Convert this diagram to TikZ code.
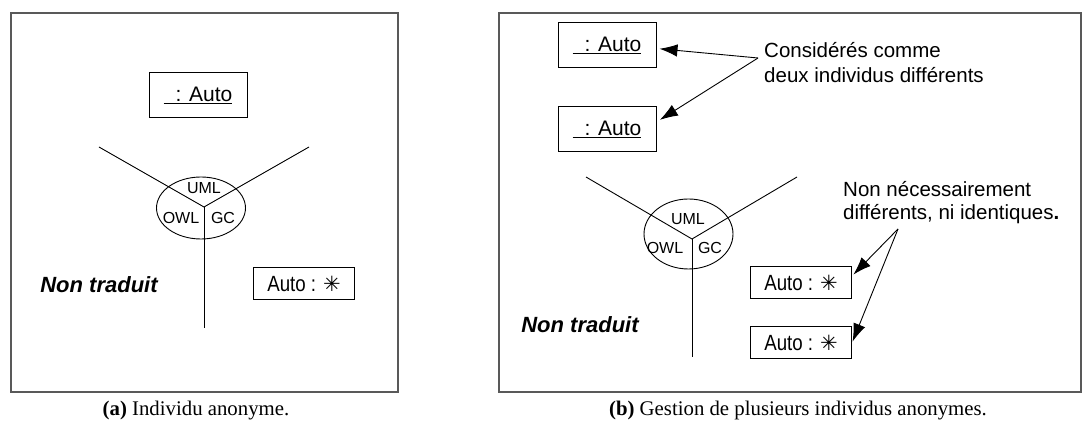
\documentclass[tikz,border=0pt]{standalone}
\usepackage{fontspec}
\setmainfont{Liberation Sans}
\newfontfamily\capfont{Liberation Serif}
\newfontfamily\narrowfont[FakeStretch=0.85]{Liberation Sans}
\newfontfamily\symfont{DejaVu Sans}
\usetikzlibrary{arrows.meta,shapes.geometric}

\begin{document}
\begin{tikzpicture}[x=1pt,y=-1pt,
  every node/.style={inner sep=0pt},
  frame/.style={draw=black!65,line width=1.5pt},
  obj/.style={draw,line width=1pt,minimum width=98pt,minimum height=45pt,font=\fontsize{21}{25}\selectfont},
  inst/.style={draw,line width=1pt,minimum width=101pt,minimum height=32pt,font=\narrowfont\fontsize{22}{26}\selectfont},
  ring/.style={draw,ellipse,line width=0.9pt,minimum width=89pt},
  lab/.style={font=\fontsize{16}{18}\selectfont},
  nt/.style={font=\bfseries\itshape\fontsize{22}{26}\selectfont},
  note/.style={anchor=north west,align=left,font=\fontsize{20.5}{25}\selectfont},
  capt/.style={font=\capfont\fontsize{20.8}{24}\selectfont},
  ln/.style={line width=0.9pt},
  ar/.style={-{Latex[length=18pt,width=12.5pt]},line width=0.9pt}]
\useasboundingbox (0,0) rectangle (1082,435);
\draw[frame] (11,13) rectangle (398,392);
\draw[frame] (499,13) rectangle (1081,392);

\node[obj] (a1) at (198,95.5) {\underline{\hspace{12pt}: Auto}};
\coordinate (y1) at (204,207);
\coordinate (y1l) at (99,147);
\coordinate (y1r) at (309,147);
\coordinate (y1b) at (204,328);
\node[ring,minimum height=62pt] (e1) at (201,208) {};
\draw[ln] (y1l) -- (y1) -- (y1r);
\draw[ln] (y1) -- (y1b);
\node[lab] (u1) at (204,188) {UML};
\node[lab] (o1) at (181,218) {OWL};
\node[lab] (g1) at (223,218) {GC};
\node[nt] (t1) at (99,285) {Non traduit};
\node[inst] (i1) at (304,284) {Auto : {\symfont\fontsize{21}{24}\selectfont ✳}};

\node[obj] (a2) at (607,45.5) {\underline{\hspace{12pt}: Auto}};
\node[obj] (a3) at (607,129.5) {\underline{\hspace{12pt}: Auto}};
\node[note] (n1) at (764,42.5) {Considérés comme\\deux individus différents};
\coordinate (s1) at (758,58);
\draw[ar,shorten >=3pt] (s1) -- ([yshift=-3pt]a2.east);
\draw[ar,shorten >=4pt] (s1) -- ([yshift=7.5pt]a3.east);

\coordinate (y2) at (692,239);
\coordinate (y2l) at (586,177);
\coordinate (y2r) at (797,177);
\coordinate (y2b) at (692,357);
\node[ring,minimum height=70pt] (e2) at (688.5,234) {};
\draw[ln] (y2l) -- (y2) -- (y2r);
\draw[ln] (y2) -- (y2b);
\node[lab] (u2) at (688,219) {UML};
\node[lab] (o2) at (665,248) {OWL};
\node[lab] (g2) at (710,248) {GC};
\node[nt] (t2) at (580,325) {Non traduit};
\node[inst] (i2) at (801,283) {Auto : {\symfont\fontsize{21}{24}\selectfont ✳}};
\node[inst] (i3) at (801,343) {Auto : {\symfont\fontsize{21}{24}\selectfont ✳}};
\node[note,font=\fontsize{20.5}{23}\selectfont] (n2) at (843,181) {Non nécessairement\\différents, ni identiques\textbf{.}};
\coordinate (s2) at (898,229);
\draw[ar,shorten >=2pt] (s2) -- ([yshift=7pt]i2.east);
\draw[ar,shorten >=1.5pt] (s2) -- (i3.east);

\node[capt] (c1) at (196,411) {\textbf{(a)} Individu anonyme.};
\node[capt] (c2) at (798,411) {\textbf{(b)} Gestion de plusieurs individus anonymes.};
\end{tikzpicture}
\end{document}
